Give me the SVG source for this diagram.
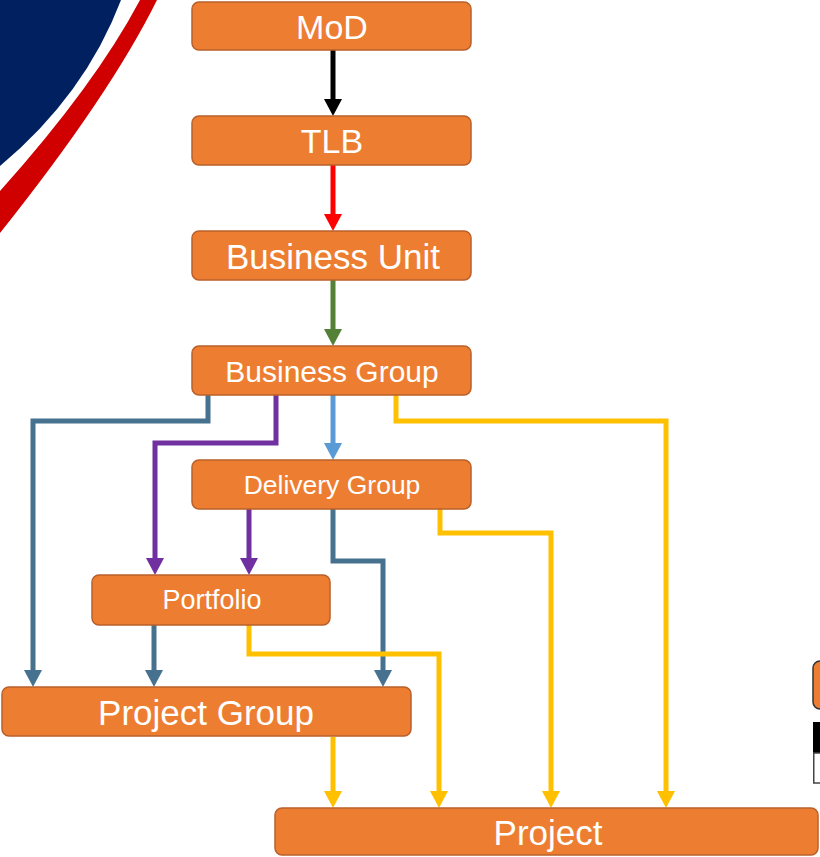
<svg xmlns="http://www.w3.org/2000/svg" width="820" height="857" viewBox="0 0 820 857">
<style>
.box{fill:#ED7D31;stroke:#B9602A;stroke-width:1.5}
.t{fill:#fff;font-family:"Liberation Sans",Arial,sans-serif;text-anchor:middle;dominant-baseline:central}
.c{fill:none;stroke-width:5;stroke-linejoin:miter}
</style>
<defs>
<marker id="aK" markerUnits="userSpaceOnUse" markerWidth="18" markerHeight="18" refX="0" refY="9" orient="auto"><path d="M0,0L17,9L0,18z" fill="#000"/></marker>
<marker id="aR" markerUnits="userSpaceOnUse" markerWidth="18" markerHeight="18" refX="0" refY="9" orient="auto"><path d="M0,0L17,9L0,18z" fill="#FF0000"/></marker>
<marker id="aG" markerUnits="userSpaceOnUse" markerWidth="18" markerHeight="18" refX="0" refY="9" orient="auto"><path d="M0,0L17,9L0,18z" fill="#538135"/></marker>
<marker id="aL" markerUnits="userSpaceOnUse" markerWidth="18" markerHeight="18" refX="0" refY="9" orient="auto"><path d="M0,0L17,9L0,18z" fill="#5B9BD5"/></marker>
<marker id="aS" markerUnits="userSpaceOnUse" markerWidth="18" markerHeight="18" refX="0" refY="9" orient="auto"><path d="M0,0L17,9L0,18z" fill="#467290"/></marker>
<marker id="aP" markerUnits="userSpaceOnUse" markerWidth="18" markerHeight="18" refX="0" refY="9" orient="auto"><path d="M0,0L17,9L0,18z" fill="#7030A0"/></marker>
<marker id="aY" markerUnits="userSpaceOnUse" markerWidth="18" markerHeight="18" refX="0" refY="9" orient="auto"><path d="M0,0L17,9L0,18z" fill="#FFC000"/></marker>
</defs>
<g id="decoration">
<path d="M0,0H121Q85,95 0,166Z" fill="#002060"/>
<path d="M140,0H157Q110,95 0,233V191Q95,85 140,0Z" fill="#D00000"/>
<rect x="813" y="661" width="20" height="48" rx="7" fill="#ED7D31" stroke="#333" stroke-width="1.5"/>
<rect x="813" y="722" width="10" height="31" fill="#000"/>
<rect x="813.75" y="753" width="10" height="30" fill="#fff" stroke="#444" stroke-width="1.5"/>
</g>
<g id="connectors">
<path class="c" stroke="#000" marker-end="url(#aK)" d="M333,50V99"/>
<path class="c" stroke="#FF0000" marker-end="url(#aR)" d="M333,165V214"/>
<path class="c" stroke="#538135" marker-end="url(#aG)" d="M333,280V329"/>
<path class="c" stroke="#5B9BD5" marker-end="url(#aL)" d="M333,395V443"/>
<path class="c" stroke="#467290" marker-end="url(#aS)" d="M208,395V421H33V670"/>
<path class="c" stroke="#7030A0" marker-end="url(#aP)" d="M276,395V443H155V558"/>
<path class="c" stroke="#FFC000" marker-end="url(#aY)" d="M396,395V421H666V791"/>
<path class="c" stroke="#7030A0" marker-end="url(#aP)" d="M249,509V558"/>
<path class="c" stroke="#467290" marker-end="url(#aS)" d="M333,509V561H383V670"/>
<path class="c" stroke="#FFC000" marker-end="url(#aY)" d="M440,509V533H551V791"/>
<path class="c" stroke="#467290" marker-end="url(#aS)" d="M154,625V670"/>
<path class="c" stroke="#FFC000" marker-end="url(#aY)" d="M249,625V654H439V791"/>
<path class="c" stroke="#FFC000" marker-end="url(#aY)" d="M333,737V791"/>
</g>
<g id="mod"><rect class="box" x="192" y="2" width="279" height="48" rx="7"/><text class="t" x="332" y="27" font-size="34">MoD</text></g>
<g id="tlb"><rect class="box" x="192" y="116" width="279" height="49" rx="7"/><text class="t" x="332" y="141" font-size="34">TLB</text></g>
<g id="business-unit"><rect class="box" x="192" y="231" width="279" height="49" rx="7"/><text class="t" x="333" y="256" font-size="35">Business Unit</text></g>
<g id="business-group"><rect class="box" x="192" y="346" width="279" height="49" rx="7"/><text class="t" x="332" y="371" font-size="30">Business Group</text></g>
<g id="delivery-group"><rect class="box" x="192" y="460" width="279" height="49" rx="7"/><text class="t" x="332" y="485" font-size="26.5">Delivery Group</text></g>
<g id="portfolio"><rect class="box" x="92" y="575" width="238" height="50" rx="7"/><text class="t" x="212" y="600" font-size="27">Portfolio</text></g>
<g id="project-group"><rect class="box" x="2" y="687" width="409" height="49" rx="7"/><text class="t" x="206" y="712" font-size="35">Project Group</text></g>
<g id="project"><rect class="box" x="275" y="808" width="543" height="47" rx="7"/><text class="t" x="548" y="832" font-size="35">Project</text></g>
</svg>
